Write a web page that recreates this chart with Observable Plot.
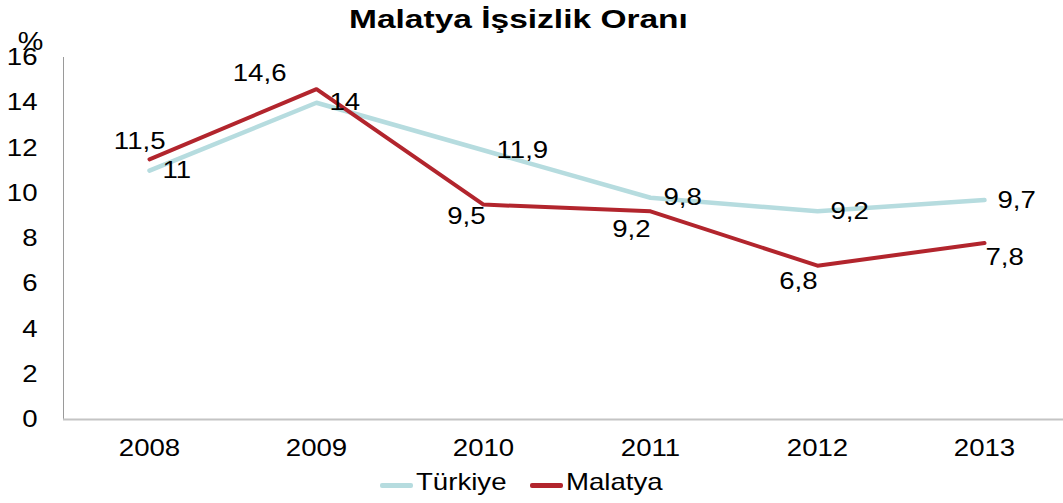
<!DOCTYPE html>
<html>
<head>
<meta charset="utf-8">
<script src="https://cdn.jsdelivr.net/npm/d3@7"></script>
<script src="https://cdn.jsdelivr.net/npm/@observablehq/plot@0.6"></script>
<style>
  html, body { margin: 0; padding: 0; background: #fff; }
  #wrap { position: relative; width: 1063px; height: 503px; overflow: hidden; font-family: "Liberation Sans", Arial, sans-serif; color: #000; background: #fff; }
  #title { position: absolute; left: 0; top: 0; width: 1036px; text-align: center; font-weight: bold; font-size: 25px; line-height: 38px; z-index: 2; }
  #title span { display: inline-block; transform: scaleX(1.34); }
  #chart { position: absolute; left: 0; top: 30px; z-index: 1; }
  .leg { position: absolute; top: 460px; height: 44px; display: flex; align-items: center; font-size: 24px; line-height: 44px; z-index: 2; }
  .sw { width: 33px; height: 5px; border-radius: 2px; margin-top: 6px; margin-right: 3px; }
  .leg span { display: inline-block; transform: scaleX(1.15); transform-origin: left center; }
</style>
</head>
<body>
<div id="wrap">
  <div id="chart"></div>
  <div id="title"><span>Malatya İşsizlik Oranı</span></div>
  <div class="leg" style="left:380px"><div class="sw" style="background:#b6dcdf"></div><span>Türkiye</span></div>
  <div class="leg" style="left:530px"><div class="sw" style="background:#b2252d"></div><span>Malatya</span></div>
</div>
<script>
const years = ["2008", "2009", "2010", "2011", "2012", "2013"];
const turkiye = [11, 14, 11.9, 9.8, 9.2, 9.7];
const malatya = [11.5, 14.6, 9.5, 9.2, 6.8, 7.8];
const yTicks = [0, 2, 4, 6, 8, 10, 12, 14, 16];
const yUnit = "%";

const colTurkiye = "#b6dcdf";
const colMalatya = "#b2252d";
const fmt = v => String(v).replace(".", ",");

// label placement styles for Malatya (per point)
const malatyaPlacement = [
  {anchor: "end", dx: 16, dy: -18},
  {anchor: "end", dx: -30, dy: -16},
  {anchor: "end", dx: 2, dy: 12},
  {anchor: "end", dx: 0, dy: 18},
  {anchor: "end", dx: 0, dy: 16},
  {anchor: "start", dx: 1, dy: 14}
];

const tData = years.map((y, i) => ({year: y, value: turkiye[i]}));
const mData = years.map((y, i) => ({year: y, value: malatya[i]}));

const chart = Plot.plot({
  width: 1063,
  height: 430,
  marginLeft: 63,
  marginRight: 0,
  marginTop: 27,
  marginBottom: 41,
  style: {fontFamily: "'Liberation Sans', Arial, sans-serif", fontSize: "24px", color: "#000", background: "transparent", overflow: "visible"},
  x: {type: "point", domain: years, range: [63, 1070], padding: 0.5},
  y: {domain: [0, 16]},
  marks: [
    Plot.frame({anchor: "left", stroke: "#9a9a9a", strokeWidth: 1}),
    Plot.ruleY([0], {stroke: "#c4c4c4", strokeWidth: 2}),
    Plot.axisY({ticks: yTicks, tickSize: 0, tickPadding: 26, label: null, fontSize: 24}),
    Plot.axisX({tickSize: 0, tickPadding: 19, label: null, fontSize: 24}),
    Plot.text([yUnit], {frameAnchor: "top-left", text: d => d, dx: -33, dy: -16, textAnchor: "middle", lineAnchor: "middle", fontSize: 25}),
    Plot.lineY(tData, {x: "year", y: "value", stroke: colTurkiye, strokeWidth: 4.5}),
    Plot.lineY(mData, {x: "year", y: "value", stroke: colMalatya, strokeWidth: 4}),
    Plot.text(tData, {x: "year", y: "value", text: d => fmt(d.value), textAnchor: "start", dx: 13, fontSize: 24, fill: "#000"}),
    ...malatyaPlacement.map((p, i) => Plot.text([mData[i]], {x: "year", y: "value", text: d => fmt(d.value), textAnchor: p.anchor, dx: p.dx, dy: p.dy, fontSize: 24, fill: "#000"}))
  ]
});

// mimic the horizontally stretched lettering of the original
const s = 1.15;
for (const t of chart.querySelectorAll("text")) {
  const x = t.getAttribute("x");
  if (x != null && !isNaN(+x)) t.setAttribute("x", +x / s);
  const dx = t.getAttribute("dx");
  if (dx != null && !isNaN(+dx)) t.setAttribute("dx", +dx / s);
  t.setAttribute("transform", ((t.getAttribute("transform") || "") + ` scale(${s},1)`).trim());
}
document.getElementById("chart").appendChild(chart);
</script>
</body>
</html>
